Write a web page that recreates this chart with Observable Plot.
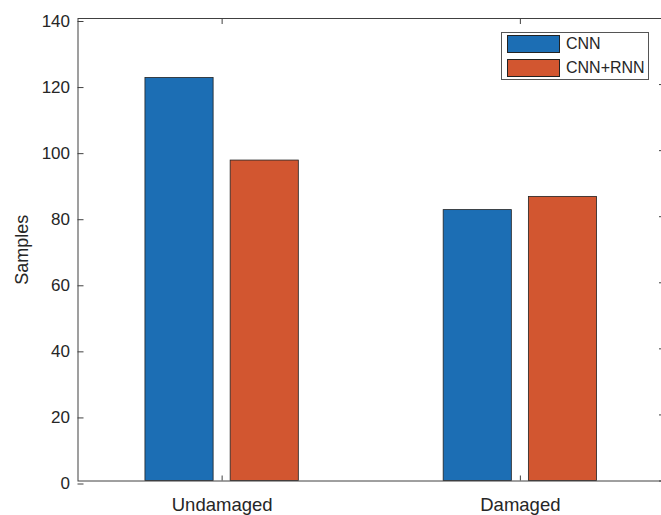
<!DOCTYPE html>
<html>
<head>
<meta charset="utf-8">
<script src="https://cdn.jsdelivr.net/npm/d3@7"></script>
<script src="https://cdn.jsdelivr.net/npm/@observablehq/plot@0.6"></script>
<style>
  body { margin: 0; background: #fff; }
  #chart { position: relative; width: 661px; height: 515px; font-family: "Liberation Sans", Arial, sans-serif; }
  #chart svg { display: block; }
  .legend { position: absolute; left: 501px; top: 32px; width: 148px; height: 48px; box-sizing: border-box;
            border: 1px solid #555; background: #fff; color: #262626; font-size: 16px; padding: 2px 0 0 5px; }
  .legend .row { display: flex; align-items: center; height: 18px; margin-bottom: 6px; }
  .legend .sw { width: 53px; height: 18px; box-sizing: border-box; border: 1px solid #222; margin-right: 6px; }
</style>
</head>
<body>
<div id="chart"></div>
<script>
// Sample counts per class for each model
const categories = ["Undamaged", "Damaged"];
const seriesNames = ["CNN", "CNN+RNN"];
const cnnValues = [122, 82];
const cnnRnnValues = [97, 86];
const seriesColors = ["#1c6eb4", "#d25630"];
const yTicks = [0, 20, 40, 60, 80, 100, 120, 140];

// Grouped-bar layout (same rule MATLAB uses for bar groups)
const nSeries = seriesNames.length;
const groupWidth = Math.min(0.8, nSeries / (nSeries + 1.5));
const barWidth = 0.8 * groupWidth / nSeries;
const seriesValues = [cnnValues, cnnRnnValues];

const rows = [];
categories.forEach((cat, i) => {
  seriesNames.forEach((s, j) => {
    const center = (i + 1) - groupWidth / 2 + groupWidth / nSeries * (j + 0.5);
    rows.push({category: cat, series: s, value: seriesValues[j][i],
               x1: center - barWidth / 2, x2: center + barWidth / 2});
  });
});

const axisColor = "#404040";
const xTickPositions = categories.map((_, i) => i + 1);

const plot = Plot.plot({
  width: 661,
  height: 515,
  marginLeft: 77.5,
  marginRight: -3,
  marginTop: 18,
  marginBottom: 34.5,
  style: {fontFamily: "'Liberation Sans', Arial, sans-serif", fontSize: "17px", color: "#262626", background: "#fff"},
  x: {type: "linear", domain: [0.5167, 2.4833]},
  y: {domain: [0, 140]},
  color: {domain: seriesNames, range: seriesColors},
  marks: [
    Plot.rectY(rows, {x1: "x1", x2: "x2", y1: 0, y2: "value", fill: "series", stroke: "#222", strokeWidth: 0.8}),
    Plot.frame({stroke: axisColor, strokeWidth: 1}),
    Plot.axisY({anchor: "left", ticks: yTicks, tickSize: -6, tickPadding: 14, dy: 3, fontSize: 17, label: null, stroke: axisColor, fill: "#262626"}),
    Plot.axisY({anchor: "right", ticks: yTicks, tickSize: -6, tickFormat: () => "", label: null, stroke: axisColor}),
    Plot.axisX({anchor: "bottom", ticks: xTickPositions, tickFormat: d => categories[d - 1], tickSize: -5, tickPadding: 22, fontSize: 18.5, label: null, stroke: axisColor, fill: "#262626"}),
    Plot.axisX({anchor: "top", ticks: xTickPositions, tickSize: -5, tickFormat: () => "", label: null, stroke: axisColor}),
    Plot.text(["Samples"], {frameAnchor: "left", rotate: -90, dx: -56, fontSize: 18, fill: "#262626", textAnchor: "middle", lineAnchor: "middle"})
  ]
});

const chart = document.getElementById("chart");
chart.appendChild(plot);

// Legend box in the upper right of the axes
const legend = document.createElement("div");
legend.className = "legend";
seriesNames.forEach((name, j) => {
  const row = document.createElement("div");
  row.className = "row";
  const sw = document.createElement("div");
  sw.className = "sw";
  sw.style.background = seriesColors[j];
  const label = document.createElement("span");
  label.textContent = name;
  row.appendChild(sw);
  row.appendChild(label);
  legend.appendChild(row);
});
chart.appendChild(legend);
</script>
</body>
</html>
